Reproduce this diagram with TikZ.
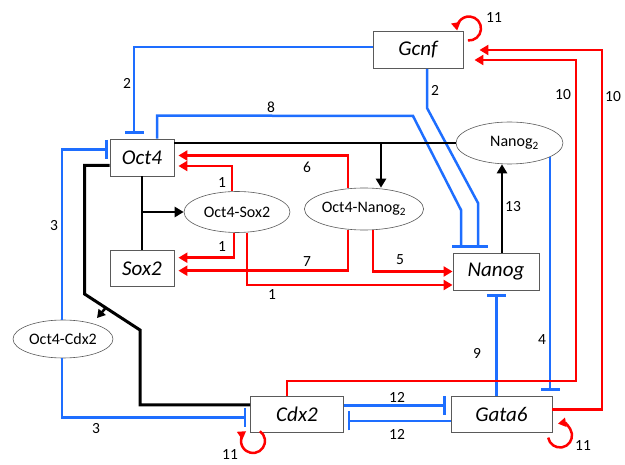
\documentclass[tikz,border=0pt]{standalone}
\usepackage{fontspec}
\setmainfont{Carlito}
\usetikzlibrary{arrows.meta,shapes.geometric}
\definecolor{inhblue}{RGB}{30,110,255}
\definecolor{actred}{RGB}{255,0,0}
\definecolor{boxgray}{RGB}{90,90,90}

\begin{document}
\begin{tikzpicture}[x=1pt,y=-1pt,
  gene/.style={draw=boxgray, line width=0.9pt, fill=white, inner sep=0pt,
    font=\fontsize{21}{24}\selectfont\itshape},
  complex/.style={ellipse, draw=boxgray, line width=0.6pt, fill=white, inner sep=0pt,
    font=\fontsize{16}{19}\selectfont},
  lbl/.style={inner sep=0pt, font=\fontsize{15.5}{18}\selectfont},
  inh/.style={draw=inhblue, line width=2.5pt, -{Bar[width=19pt,line width=2.5pt]}},
  act/.style={draw=actred, line width=2.5pt, -{Triangle[length=9pt,width=10pt]}},
  loopact/.style={draw=actred, line width=2.5pt, -{Triangle[length=8pt,width=9pt]}},
  blk/.style={draw=black, line width=2.5pt},
  blkact/.style={blk, -{Triangle[length=9pt,width=10pt]}},
]
\useasboundingbox (0,0) rectangle (625,465);

% genes
\node[gene, minimum width=90pt, minimum height=37pt] (gcnf) at (418,50) {Gcnf};
\node[gene, minimum width=64pt, minimum height=37pt] (oct4) at (142,157.5) {Oct4};
\node[gene, minimum width=64pt, minimum height=36pt] (sox2) at (142,268.7) {Sox2};
\node[gene, minimum width=86pt, minimum height=37pt] (nanog) at (496,271.5) {Nanog};
\node[gene, minimum width=93pt, minimum height=36pt] (cdx2) at (297,414) {Cdx2};
\node[gene, minimum width=101pt, minimum height=36pt] (gata6) at (501.5,414) {Gata6};

% complexes
\node[complex, minimum width=106pt, minimum height=41pt] (os) at (237,212) {Oct4-Sox2};
\node[complex, minimum width=108pt, minimum height=42pt] (on) at (364,209) {Oct4-Nanog\textsubscript{2}};
\node[complex, minimum width=107pt, minimum height=42pt] (n2) at (509.5,143) {\hspace*{10pt}Nanog\textsubscript{2}};
\node[complex, minimum width=100pt, minimum height=38pt] (oc) at (63,339) {Oct4-Cdx2};

% inhibitions towards Oct4 and Nanog
\draw[inh, shorten >=5pt] ([yshift=3pt]gcnf.west) -| ([xshift=-8pt]oct4.north);
\draw[inh, shorten >=5pt] ([xshift=9pt]gcnf.south) -- ++(0,39) -- (478,203) -- ([xshift=-18pt]nanog.north);
\draw[inh, shorten >=5pt] ([xshift=15pt]oct4.north) -- ++(0,-23) -- (413,116) -- (461,210) -- ([xshift=-35pt]nanog.north);

% complex formation
\draw[blk] (oct4.east |- n2.west) -- (n2.west);
\coordinate (b1) at (381,143);
\draw[blkact] (b1) -- (b1 |- on.north);
\draw[blk] (oct4.south) -- (sox2.north);
\draw[blkact] (oct4.south |- os.west) -- (os.west);
\draw[blk, line width=3pt] ([yshift=-8pt]oct4.west) -- ++(-25,0) -- ++(0,128.5) -- (140,330) |- ([yshift=9pt]cdx2.west);
\coordinate (b2s) at (106,307.5);
\coordinate (b2e) at (97,318);
\draw[blk, -{Triangle[length=8pt,width=9pt]}] (b2s) -- (b2e);
\draw[blkact] ([xshift=6pt]nanog.north) -- ([xshift=6pt]nanog.north |- n2.south);

% activations by the complexes
\draw[act, shorten >=4pt] ([xshift=-5pt]os.north) |- ([yshift=-8.5pt]oct4.east);
\draw[act, shorten >=4pt] ([xshift=-16pt]on.north) |- ([yshift=2pt]oct4.east);
\draw[act, shorten >=4pt] ([xshift=-3pt]os.south) |- ([yshift=11pt]sox2.east);
\draw[act, shorten >=4pt] ([xshift=-16pt]on.south) |- ([yshift=-2pt]sox2.east);
\draw[act] ([xshift=10pt]os.south) |- ([yshift=-13.5pt]nanog.west);
\draw[act] ([xshift=9pt]on.south) |- (nanog.west);

% Gata6 / Nanog / Nanog2
\draw[inh, shorten >=4pt] ([xshift=-5pt]gata6.north) -- ([xshift=-5pt]gata6.north |- nanog.south);
\coordinate (n2r) at ([xshift=40.5pt,yshift=-13.7pt]n2.center);
\draw[inh, shorten >=5pt] (n2r) -- (n2r |- gata6.north);

% activations of Gcnf
\draw[act, shorten >=11pt] ([xshift=-10pt]cdx2.north) -- ++(0,-14.7) -| (576,60) -- ([yshift=-10pt]gcnf.east);
\draw[act, shorten >=16pt] ([yshift=4.7pt]gata6.east) -| (602,50) -- (gcnf.east);

% Cdx2 -- Gata6 mutual inhibition
\draw[inh, shorten >=5pt] ([yshift=8.3pt]cdx2.east) -- ([yshift=8.3pt]cdx2.east -| gata6.west);
\draw[inh, shorten >=4pt] ([yshift=-7pt]gata6.west) -- ([yshift=-7pt]gata6.west -| cdx2.east);

% Oct4-Cdx2 inhibitions
\draw[inh, shorten >=2pt] ([xshift=-1pt]oc.north) |- ([yshift=8.2pt]oct4.west);
\draw[inh, shorten >=4pt] ([xshift=-1pt]oc.south) |- ([yshift=-3.3pt]cdx2.west);

% self activation loops
\draw[loopact] (469,28.5) ++(95:12) arc[start angle=95, end angle=-190, radius=12];
\draw[loopact] (253,441) ++(-55:12) arc[start angle=-55, end angle=235, radius=12];
\draw[loopact] (560,435.5) ++(170:12) arc[start angle=170, end angle=-100, radius=12];

% rule numbers
\node[lbl] (l2a) at (127,83) {2};
\node[lbl] (l2b) at (435,90) {2};
\node[lbl] (l8) at (271,107) {8};
\node[lbl] (l6) at (307,167) {6};
\node[lbl] (l1a) at (222,183) {1};
\node[lbl] (l1b) at (222,247) {1};
\node[lbl] (l7) at (307,262) {7};
\node[lbl] (l1c) at (272,295) {1};
\node[lbl] (l5) at (400,260) {5};
\node[lbl] (l13) at (513,207) {13};
\node[lbl] (l9) at (477,353) {9};
\node[lbl] (l4) at (542,340) {4};
\node[lbl] (l10a) at (563,95) {10};
\node[lbl] (l10b) at (613,97) {10};
\node[lbl] (l12a) at (397,397) {12};
\node[lbl] (l12b) at (397,434) {12};
\node[lbl] (l3a) at (54,226) {3};
\node[lbl] (l3b) at (96,429) {3};
\node[lbl] (l11a) at (494,18) {11};
\node[lbl] (l11b) at (230,455) {11};
\node[lbl] (l11c) at (583,446) {11};
\end{tikzpicture}
\end{document}
